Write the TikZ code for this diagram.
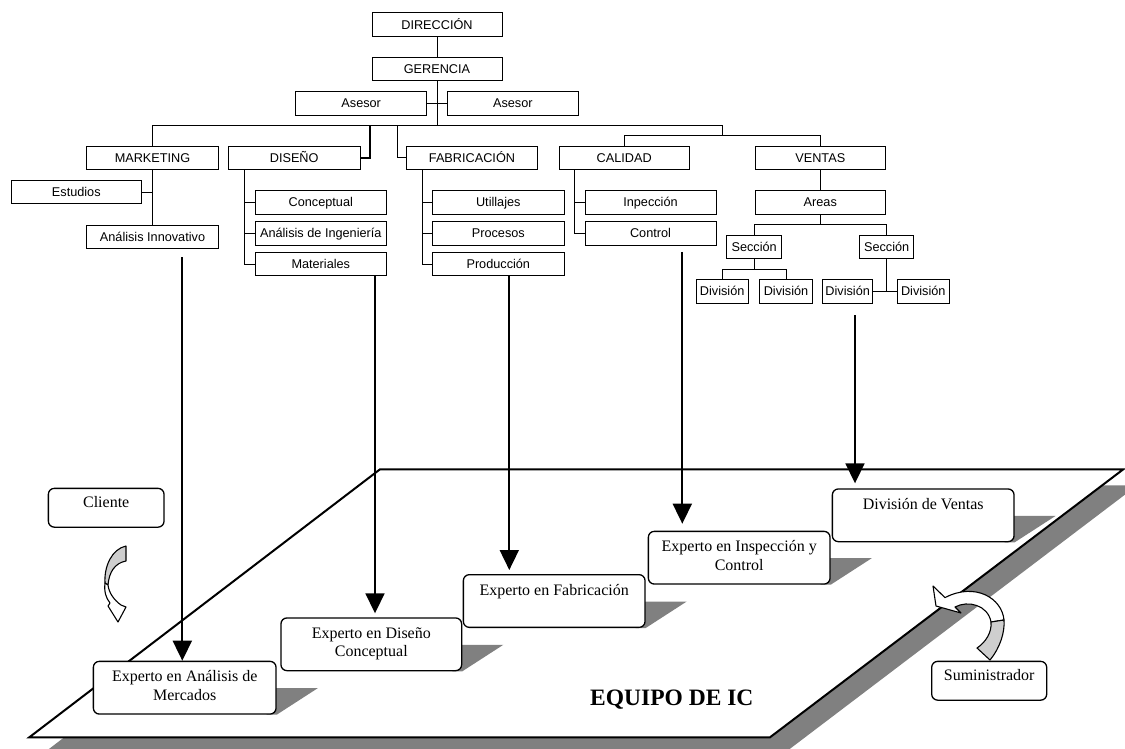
\documentclass[tikz,border=0pt]{standalone}
\usepackage{fontspec}
\setmainfont{Liberation Serif}
\newfontfamily\arialf{Liberation Sans}
\newfontfamily\timesf{Liberation Serif}
\usetikzlibrary{arrows.meta,calc}
\pgfdeclarelayer{background}
\pgfsetlayers{background,main}
\definecolor{shadowgray}{RGB}{128,128,128}
\definecolor{ribbongray}{RGB}{206,206,206}
\begin{document}
\begin{tikzpicture}[x=1pt,y=-1pt,
  orgbox/.style={draw, line width=0.8pt, fill=white, inner sep=0pt,
    text height=16.2pt, text depth=7.1pt,
    font=\arialf\fontsize{12.7}{15}\selectfont},
  orgline/.style={line width=0.8pt},
  expbox/.style={draw, line width=1.3pt, rounded corners=6pt, fill=white,
    inner sep=0pt, anchor=north, text height=20.5pt, text depth=32.2pt,
    font=\timesf\fontsize{16}{18.4}\selectfont},
  actorbox/.style={draw, line width=1.3pt, rounded corners=6pt, fill=white,
    inner sep=0pt, anchor=north, text height=19pt, text depth=19.8pt,
    font=\timesf\fontsize{16}{18.4}\selectfont},
  bigarrow/.style={line width=1.8pt, -{Triangle[length=20pt,width=19pt]}},
  ribbon/.style={draw=black, line width=1.1pt, line join=round}
]
\useasboundingbox (0,0) rectangle (1125,748);

% ---------- organisation chart ----------
\node[orgbox, minimum width=130pt] (dir) at (437,24.5) {DIRECCIÓN};
\node[orgbox, minimum width=130pt] (ger) at (437,69.2) {GERENCIA};
\node[orgbox, minimum width=131pt] (as1) at (361.2,103.3) {Asesor};
\node[orgbox, minimum width=131pt] (as2) at (512.8,103.3) {Asesor};

\node[orgbox, minimum width=131.6pt] (mkt) at (152.5,157.7) {MARKETING};
\node[orgbox, minimum width=131.7pt] (dis) at (294.2,157.7) {DISEÑO};
\node[orgbox, minimum width=130.6pt] (fab) at (472,157.7) {FABRICACIÓN};
\node[orgbox, minimum width=130.3pt] (cal) at (624.2,157.7) {CALIDAD};
\node[orgbox, minimum width=130.7pt] (ven) at (820.3,157.7) {VENTAS};

\node[orgbox, minimum width=130.7pt] (est) at (76.3,192) {Estudios};
\node[orgbox, minimum width=131.6pt] (ai) at (152.5,237) {Análisis Innovativo};

\node[orgbox, minimum width=131.7pt] (conc) at (320.8,202.3) {Conceptual};
\node[orgbox, minimum width=131.7pt] (aing) at (320.8,233.3) {Análisis de Ingeniería};
\node[orgbox, minimum width=131.7pt] (mat) at (320.8,264.2) {Materiales};

\node[orgbox, minimum width=131.3pt] (util) at (498.3,202.3) {Utillajes};
\node[orgbox, minimum width=131.3pt] (proc) at (498.3,233.3) {Procesos};
\node[orgbox, minimum width=131.3pt] (prod) at (498.3,264.2) {Producción};

\node[orgbox, minimum width=131pt] (insp) at (650.5,202.3) {Inpección};
\node[orgbox, minimum width=131pt] (ctrl) at (650.5,233.3) {Control};

\node[orgbox, minimum width=130.7pt] (areas) at (820.3,202.3) {Areas};
\node[orgbox, minimum width=55pt] (sec1) at (754.2,247) {Sección};
\node[orgbox, minimum width=54pt] (sec2) at (886.7,247) {Sección};
\node[orgbox, minimum width=52.3pt] (div1) at (722.2,291.3) {División};
\node[orgbox, minimum width=53.4pt] (div2) at (786,291.3) {División};
\node[orgbox, minimum width=50pt] (div3) at (847.7,291.3) {División};
\node[orgbox, minimum width=52pt] (div4) at (923.3,291.3) {División};

% junction points of the chart
\coordinate (busA) at (437,125.7);
\coordinate (busE) at (722.3,125.7);
\coordinate (busF) at (722.3,135.7);
\coordinate (dj) at (370,125.7);
\coordinate (fj) at (397.7,125.7);
\coordinate (aj) at (820.3,224.3);
\coordinate (sj) at (754.2,269.3);

\draw[orgline] (dir) -- (ger);
\draw[orgline] (ger) -- (busA);
\draw[orgline] (as1) -- (as2);
\draw[orgline] (mkt.north) |- (busE) -- (busF);
\draw[orgline] (cal.north) |- (busF) -| (ven.north);
\draw[line width=2pt] (dis.east) -| (dj);
\draw[orgline] (fab.west) -| (fj);

\draw[orgline] (mkt) -- (ai);
\draw[orgline] (est.east) -- (est.east -| mkt.south);

\draw[orgline] ([xshift=16.7pt]dis.south west) |- (mat.west);
\draw[orgline] (conc.west) -- ++(-10,0);
\draw[orgline] (aing.west) -- ++(-10,0);

\draw[orgline] ([xshift=16pt]fab.south west) |- (prod.west);
\draw[orgline] (util.west) -- ++(-10,0);
\draw[orgline] (proc.west) -- ++(-10,0);

\draw[orgline] ([xshift=16pt]cal.south west) |- (ctrl.west);
\draw[orgline] (insp.west) -- ++(-10,0);

\draw[orgline] (ven) -- (areas);
\draw[orgline] (areas.south) -- (aj);
\draw[orgline] (sec1.north) |- (aj) -| (sec2.north);
\draw[orgline] (sec1.south) -- (sj);
\draw[orgline] (div1.north) |- (sj) -| (div2.north);
\draw[orgline] (sec2.south) -- (sec2.south |- div3.east);
\draw[orgline] (div3.east) -- (div4.west);

% ---------- concurrent engineering team ----------
\node[expbox, minimum width=182.7pt] (exp1) at (184.7,660.7)
  {\begin{tabular}[t]{@{}c@{}}Experto en Análisis de\\Mercados\end{tabular}};
\node[expbox, minimum width=180.7pt] (exp2) at (371.3,617.3)
  {\begin{tabular}[t]{@{}c@{}}Experto en Diseño\\Conceptual\end{tabular}};
\node[expbox, minimum width=181.7pt] (exp3) at (554.2,574) {Experto en Fabricación};
\node[expbox, minimum width=181.7pt] (exp4) at (739.2,530.7)
  {\begin{tabular}[t]{@{}c@{}}Experto en Inspección y\\Control\end{tabular}};
\node[expbox, minimum width=181.7pt] (exp5) at (923.2,488.3) {División de Ventas};

\node[actorbox, minimum width=115.7pt] (cli) at (106.2,487.7) {Cliente};
\node[actorbox, minimum width=115pt] (sum) at (989.2,660.7) {Suministrador};

\node[anchor=base west, inner sep=0pt, font=\timesf\bfseries\fontsize{23.5}{28}\selectfont]
  (equipo) at (590,705.7) {EQUIPO DE IC};

% platform and shadows behind the team boxes
\coordinate (p1) at (29.3,737.3);
\coordinate (p2) at (380,469.3);
\coordinate (p3) at (1123.3,469.3);
\coordinate (p4) at (770,737.3);
\begin{pgfonlayer}{background}
  \fill[shadowgray] ($(p1)+(14,16)$) -- ($(p2)+(14,16)$) -- ($(p3)+(14,16)$)
    -- ($(p4)+(14,16)$) -- cycle;
  \filldraw[fill=white, draw=black, line width=2pt, line join=miter]
    (p1) -- (p2) -- (p3) -- (p4) -- cycle;
  \foreach \b in {exp1,exp2,exp3,exp4,exp5}{
    \fill[shadowgray] ($(\b.north east)+(-10,27.5)$) -- ($(\b.north east)+(41,27.5)$)
      -- (\b.south east) -- ($(\b.south east)+(-10,0)$) -- cycle;
  }
\end{pgfonlayer}

% links from departments to team members
\coordinate (ax1) at (182.3,0);
\coordinate (ax2) at (375,0);
\coordinate (ax3) at (509.3,0);
\coordinate (ax4) at (682.3,0);
\coordinate (ax5) at (855,0);
\draw[bigarrow, shorten <=8pt] (ai.south -| ax1) -- (exp1.north -| ax1);
\draw[bigarrow, shorten >=4pt] (mat.south -| ax2) -- (exp2.north -| ax2);
\draw[bigarrow, shorten >=4pt] (prod.south -| ax3) -- (exp3.north -| ax3);
\draw[bigarrow, shorten <=6.5pt, shorten >=7pt] (ctrl.south -| ax4) -- (exp4.north -| ax4);
\draw[bigarrow, shorten <=12pt, shorten >=5pt] (div3.south -| ax5) -- (exp5.north -| ax5);

% curved arrow below the client
\filldraw[ribbon, fill=ribbongray] (126,546) .. controls (112,549) and (104,566) .. (105,583)
  -- (108,585) .. controls (109,572) and (115,563) .. (126,561) -- cycle;
\filldraw[ribbon, fill=white] (105,583) .. controls (104,592) and (106,598) .. (110,603)
  -- (108,606) -- (118,622) -- (126,607) -- (121,605)
  .. controls (114,600) and (109,593) .. (108,585) -- cycle;

% curved arrow above the supplier
\filldraw[ribbon, fill=white] (1004,620) .. controls (1002,598) and (975,582) .. (945,597.6)
  -- (933,586) -- (936,606) -- (961,613) -- (955,607)
  .. controls (968,600) and (988,605) .. (991,622) -- cycle;
\filldraw[ribbon, fill=ribbongray] (990,660) .. controls (1000,648) and (1005,632) .. (1004,620)
  -- (991,622) .. controls (992,632) and (986,642) .. (977,648) -- cycle;
\end{tikzpicture}
\end{document}
